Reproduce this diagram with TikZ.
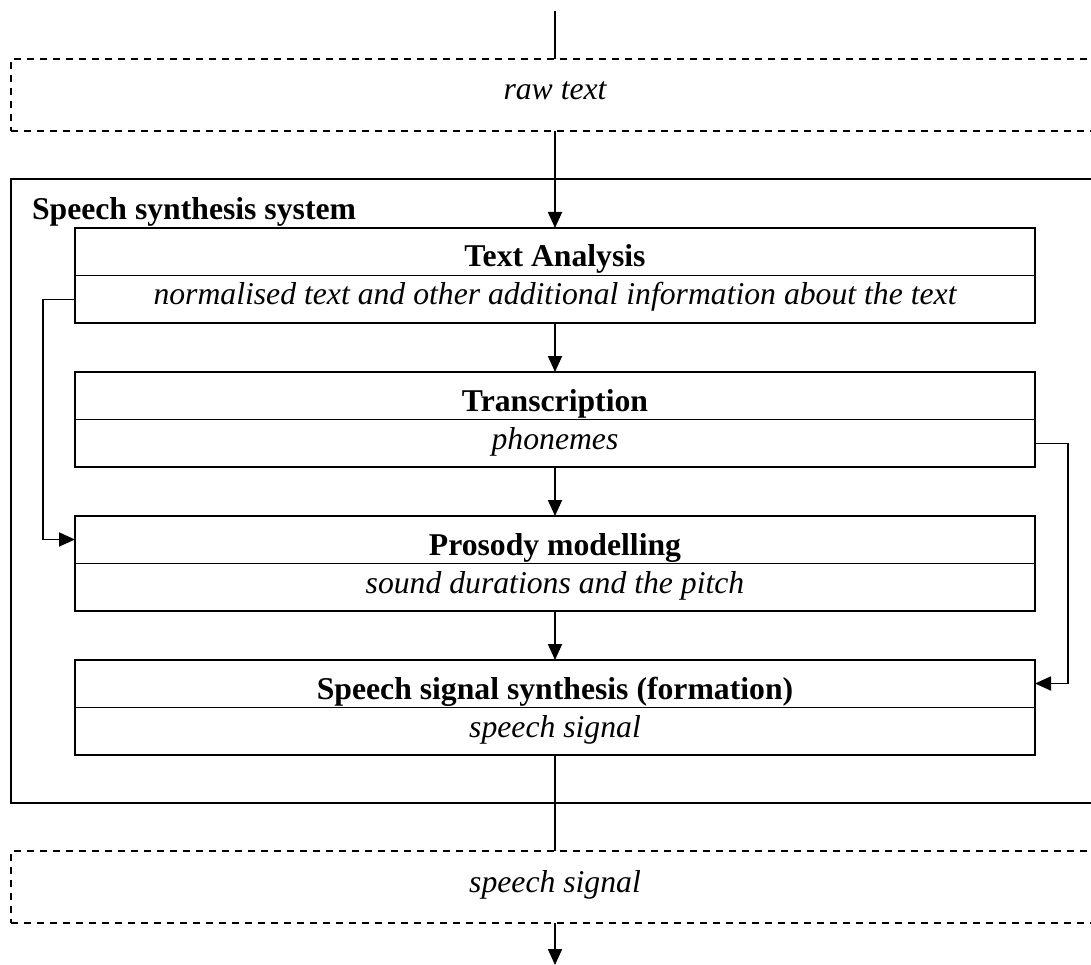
\documentclass[tikz,border=0pt]{standalone}
\usepackage{fontspec}
\setmainfont{Liberation Serif}
\usetikzlibrary{arrows.meta}
\begin{document}
\begin{tikzpicture}[x=1pt,y=-1pt,
  every node/.style={inner sep=0pt, outer sep=0pt, font=\fontsize{31.7}{38}\selectfont},
  stagebox/.style={draw, line width=1.8pt, minimum width=960pt, minimum height=95pt},
  databox/.style={draw, line width=1.6pt, dash pattern=on 7pt off 6pt, anchor=north west, minimum width=1100pt, minimum height=72pt},
  divider/.style={line width=0.9pt},
  conn/.style={line width=1.8pt},
  arr/.style={conn, -{Triangle[length=16pt,width=14pt]}},
  ttl/.style={anchor=base, font=\fontsize{31.7}{38}\selectfont\bfseries},
  sub/.style={anchor=base, font=\fontsize{31.7}{38}\selectfont\itshape}
]
\useasboundingbox (0,0) rectangle (1091,965);
\clip (0,0) rectangle (1091,965);

% outer system box
\node[draw, line width=1.8pt, anchor=north west, minimum width=1100pt, minimum height=624pt] (sys) at (11,179) {};
\node[anchor=base west, font=\fontsize{31.7}{38}\selectfont\bfseries] (syslabel) at (32,220) {Speech synthesis system};

% data boxes
\node[databox] (raw) at (11,59) {};
\node[sub] (rawtxt) at (555,100) {raw text};
\node[databox] (sig) at (11,851) {};
\node[sub] (sigtxt) at (555,892) {speech signal};

% stages
\node[stagebox] (ta) at (555,275.5) {};
\draw[divider] (ta.west) -- (ta.east);
\node[ttl] (tat) at (555,267) {Text Analysis};
\node[sub] (tas) at (555,305) {normalised text and other additional information about the text};

\node[stagebox] (tr) at (555,419.5) {};
\draw[divider] (tr.west) -- (tr.east);
\node[ttl] (trt) at (555,411) {Transcription};
\node[sub] (trs) at (555,449) {phonemes};

\node[stagebox] (pm) at (555,563.5) {};
\draw[divider] (pm.west) -- (pm.east);
\node[ttl] (pmt) at (555,555) {Prosody modelling};
\node[sub] (pms) at (555,593) {sound durations and the pitch};

\node[stagebox] (ss) at (555,707.5) {};
\draw[divider] (ss.west) -- (ss.east);
\node[ttl] (sst) at (555,699) {Speech signal synthesis (formation)};
\node[sub] (sss) at (555,737) {speech signal};

% connectors
\coordinate (top) at (555,11);
\coordinate (bot) at (555,965);
\draw[conn] (top) -- (top |- raw.north);
\draw[arr] (top |- raw.south) -- (ta.north);
\draw[arr] (ta.south) -- (tr.north);
\draw[arr] (tr.south) -- (pm.north);
\draw[arr] (pm.south) -- (ss.north);
\draw[conn] (ss.south) -- (top |- sig.north);
\draw[arr] (top |- sig.south) -- (bot);

\draw[arr] ([yshift=-24pt]ta.west) -- ++(-32,0) |- ([yshift=24pt]pm.west);
\draw[arr] ([yshift=-24pt]tr.east) -- ++(33,0) |- ([yshift=24pt]ss.east);
\end{tikzpicture}
\end{document}
